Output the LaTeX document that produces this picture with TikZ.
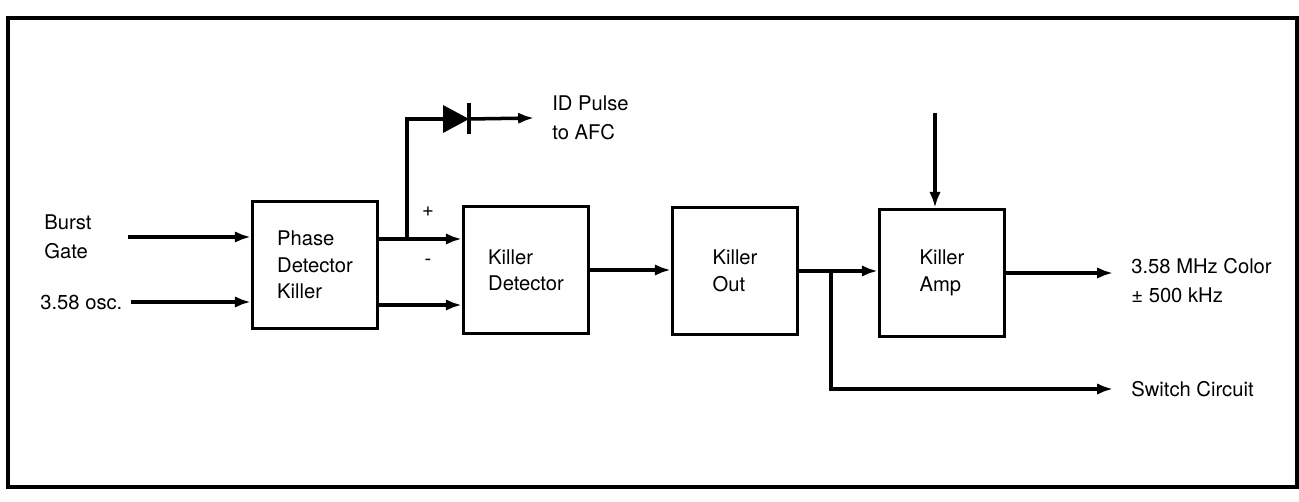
\documentclass[tikz,border=0pt]{standalone}
\usepackage{fontspec}
\setmainfont{TeX Gyre Heros}
\usetikzlibrary{arrows.meta, positioning, calc}

\begin{document}
\begin{tikzpicture}[
    x=0.02cm, y=-0.02cm,
    block/.style={rectangle, draw, line width=2pt, minimum width=2.5cm, minimum height=2.54cm, align=left, font=\fontsize{11.5}{15}\selectfont},
    lbl/.style={align=left, inner sep=0pt, font=\fontsize{11.5}{16.5}\selectfont},
    outlbl/.style={lbl, anchor=west, inner xsep=0.36cm},
    wire/.style={line width=2pt},
    >={Latex[length=9pt,width=6.5pt]}
]
\useasboundingbox (0,0) rectangle (1299,502);
% Frame
\draw[line width=2.5pt] (8,18) rectangle (1297,487);

% Blocks
\node[block] (pdk) at (315,265) {Phase\\Detector\\Killer};
\node[block] (kd) at (526,270) {Killer\\Detector};
\node[block] (ko) at (735,271) {Killer\\Out};
\node[block] (ka) at (942,273) {Killer\\Amp};

% Labels
\node[lbl, anchor=west] (burst) at (44,237) {Burst\\Gate};
\node[lbl, anchor=west] (osc) at (40,302) {3.58 osc.};
\node[lbl] (pl) at (428,212) {+};
\node[lbl] (mi) at (428,262) {-};
\node[outlbl] (afc) at (534,118) {ID Pulse\\to AFC};
\node[outlbl] (col) at (1113,281) {3.58 MHz Color\\± 500 kHz};
\node[outlbl] (swc) at (1113,389) {Switch Circuit};

% Free ends and taps
\coordinate (bg) at (128,237);
\coordinate (plus) at (407,239);
\coordinate (dA) at (443,119);
\coordinate (dK) at (469,119);
\coordinate (ampin) at (935,113);
\coordinate (tap) at (831,0);

% Inputs
\draw[wire, ->] (bg) -- (bg -| pdk.west);
\draw[wire, ->] ([xshift=0.16cm]osc.east) -- (osc.east -| pdk.west);

% Phase detector to killer detector
\draw[wire, ->] (pdk.east |- plus) -- (plus -| kd.west);
\draw[wire, ->] (pdk.east |- 0,305) -- (kd.west |- 0,305);

% ID pulse branch with diode
\draw[wire] (plus) |- (dA);
\fill (dA) -- ++(0,-14) -- ++(26,14) -- ++(-26,14) -- cycle;
\draw[line width=2.5pt] ($(dK)+(0,-16)$) -- ($(dK)+(0,15)$);
\draw[wire, ->] (dK) -- (afc.west);

% Chain
\draw[wire, ->] (kd.east) -- (kd.east -| ko.west);
\draw[wire, ->] (ko.east) -- (ko.east -| ka.west);
\draw[wire, ->] (ampin) -- (ampin |- ka.north);
\draw[wire, ->] (ka.east) -- (ka.east -| col.west);
\draw[wire, ->] (ko.east -| tap) |- (swc.west);
\end{tikzpicture}
\end{document}
